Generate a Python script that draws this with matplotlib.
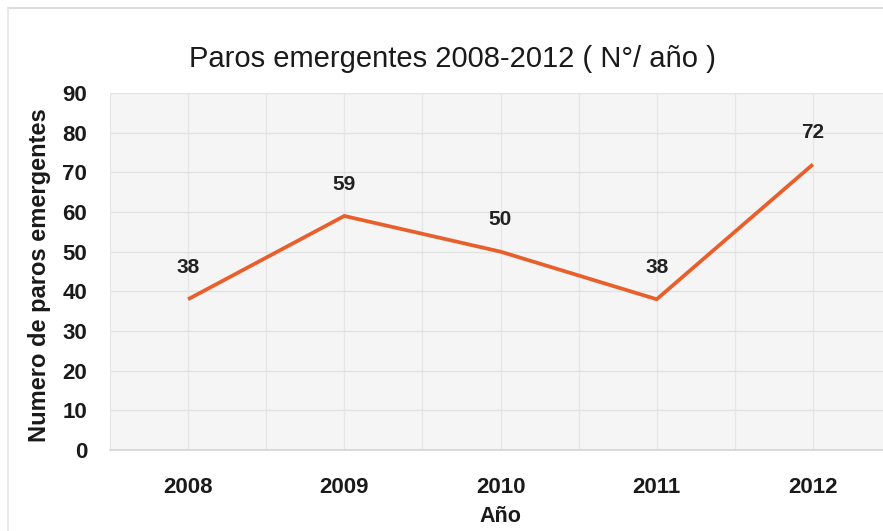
import matplotlib
matplotlib.use("Agg")
import matplotlib.pyplot as plt
from matplotlib.lines import Line2D
from matplotlib.ticker import MultipleLocator

# Data
years = ["2008", "2009", "2010", "2011", "2012"]
paros = [38, 59, 50, 38, 72]
y_ticks = [0, 10, 20, 30, 40, 50, 60, 70, 80, 90]

title_text = "Paros emergentes 2008-2012 ( N°/ año )"
x_label = "Año"
y_label = "Numero de paros emergentes"

plt.rcParams["font.family"] = ["Liberation Sans", "DejaVu Sans"]

W, H = 883, 531
fig = plt.figure(figsize=(W / 100, H / 100), dpi=100)
fig.patch.set_facecolor("white")

# faint frame around the chart area
fig.add_artist(Line2D([8 / W, 1], [1 - 8 / H, 1 - 8 / H], color="#dcdcdc", lw=1.5))
fig.add_artist(Line2D([8 / W, 8 / W], [0, 1 - 8 / H], color="#e6e6e6", lw=1.2))

left, right, bottom, top = 110, 891, 450, 93
ax = fig.add_axes([left / W, 1 - bottom / H, (right - left) / W, (bottom - top) / H])
ax.set_facecolor("#f5f5f5")

x = list(range(len(years)))
ax.plot(x, paros, color="#e85f2b", lw=2.7, solid_joinstyle="miter",
        solid_capstyle="butt", zorder=3)
for xi, v in zip(x, paros):
    ax.annotate(str(v), (xi, v), xytext=(0, 23), textcoords="offset points",
                ha="center", va="center", fontsize=15, fontweight="bold",
                color="#222222", zorder=4)

ax.set_xlim(-0.5, len(years) - 0.5)
ax.set_ylim(0, 90)
ax.set_xticks(x)
ax.set_xticklabels(years)
ax.set_yticks(y_ticks)
ax.xaxis.set_minor_locator(MultipleLocator(0.5))
ax.grid(True, which="major", axis="y", color="#e2e2e2", lw=1.0, zorder=0)
ax.grid(True, which="both", axis="x", color="#e6e6e6", lw=1.0, zorder=0)
ax.set_axisbelow(True)

for s in ("top", "right", "left"):
    ax.spines[s].set_visible(False)
ax.spines["bottom"].set_color("#d4d4d4")
ax.spines["bottom"].set_linewidth(1.2)

ax.tick_params(axis="both", which="both", length=0, labelsize=16,
               labelcolor="#1a1a1a")
ax.tick_params(axis="x", pad=19.5)
ax.tick_params(axis="y", pad=16.5)
for lab in ax.get_xticklabels() + ax.get_yticklabels():
    lab.set_fontweight("bold")

fig.text(40 / W, 1 - 275 / H, y_label, rotation=90, ha="center", va="center",
         fontsize=17, fontweight="bold", color="#1a1a1a")
fig.text(500 / W, 1 - 516 / H, x_label, ha="center", va="center",
         fontsize=15.5, fontweight="bold", color="#1a1a1a")
fig.text(452 / W, 1 - 59 / H, title_text, ha="center", va="center",
         fontsize=21, color="#1a1a1a")

fig.savefig("out.png", dpi=100)
